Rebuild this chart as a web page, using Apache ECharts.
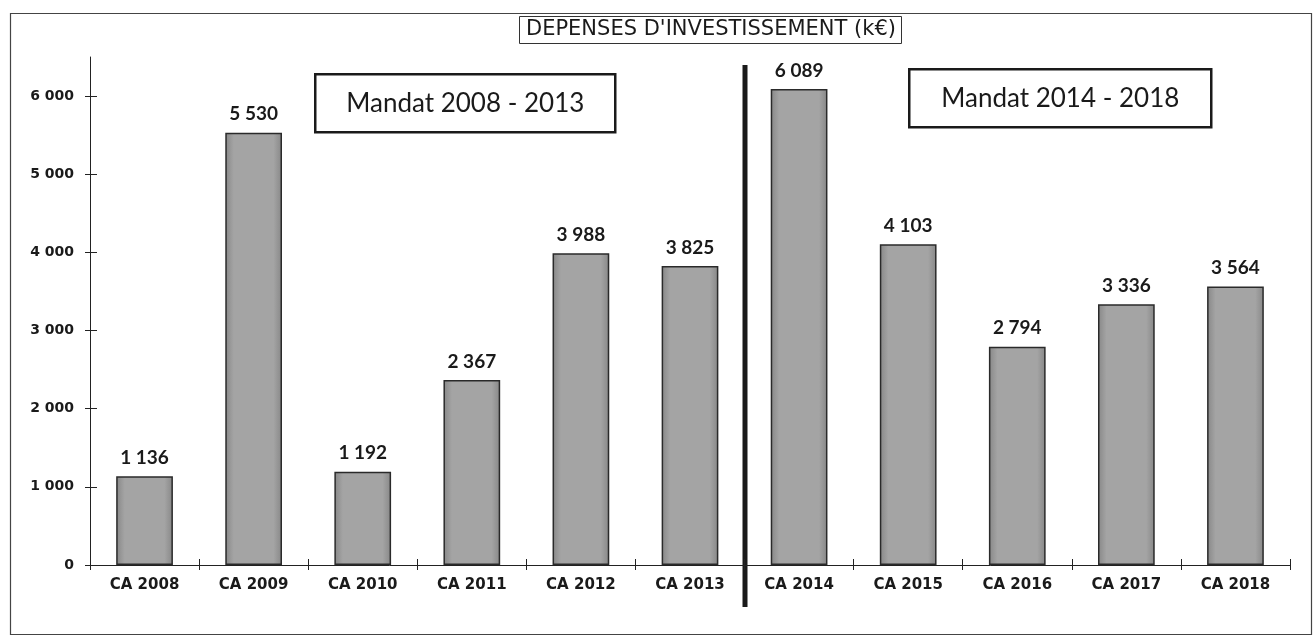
<!DOCTYPE html>
<html>
<head>
<meta charset="utf-8">
<script src="https://cdn.jsdelivr.net/npm/echarts@6/dist/echarts.min.js"></script>
<style>
  html, body { margin: 0; padding: 0; background: #ffffff; }
  #chart { width: 1314px; height: 637px; }
</style>
</head>
<body>
<div id="chart"></div>
<script>
// Dépenses d'investissement par compte administratif (k€)
const categories = ['CA 2008', 'CA 2009', 'CA 2010', 'CA 2011', 'CA 2012', 'CA 2013',
                    'CA 2014', 'CA 2015', 'CA 2016', 'CA 2017', 'CA 2018'];
const depenses = [1136, 5530, 1192, 2367, 3988, 3825, 6089, 4103, 2794, 3336, 3564];
const yTicks = [0, 1000, 2000, 3000, 4000, 5000, 6000];
const mandats = ['Mandat 2008 - 2013', 'Mandat 2014 - 2018'];
const chartTitle = "DEPENSES D'INVESTISSEMENT (k€)";

// "5530" -> "5 530"
function fmt(v) {
  return String(v).replace(/\B(?=(\d{3})+(?!\d))/g, ' ');
}

const chart = echarts.init(document.getElementById('chart'));

const axisColor = '#222222';
const yMax = 6500;

const option = {
  backgroundColor: '#ffffff',
  animation: false,
  title: {
    text: chartTitle,
    left: 519,
    top: 16,
    padding: [3, 6, 4, 7],
    borderColor: '#333333',
    borderWidth: 1,
    textStyle: {
      fontFamily: 'DejaVu Sans',
      fontWeight: 'normal',
      fontSize: 21,
      color: '#1a1a1a'
    }
  },
  grid: { left: 90, right: 24, top: 57, bottom: 72, containLabel: false },
  xAxis: [
    {
      type: 'category',
      data: categories,
      position: 'bottom',
      axisLine: { lineStyle: { color: axisColor, width: 1 } },
      axisTick: { show: true, interval: 0, length: 5, lineStyle: { color: axisColor } },
      axisLabel: {
        interval: 0,
        margin: 13,
        fontFamily: 'DejaVu Sans',
        fontWeight: 'bold',
        fontSize: 15,
        color: '#1a1a1a'
      }
    },
    {
      // inner half of the crossing tick marks
      type: 'category',
      data: categories,
      position: 'bottom',
      axisLine: { show: false },
      axisTick: { show: true, inside: true, interval: 0, length: 6, lineStyle: { color: axisColor } },
      axisLabel: { show: false }
    }
  ],
  yAxis: [
    {
      type: 'value',
      min: 0,
      max: yMax,
      interval: 1000,
      position: 'left',
      splitLine: { show: false },
      axisLine: { show: true, lineStyle: { color: axisColor, width: 1 } },
      axisTick: { show: true, length: 5, customValues: yTicks, lineStyle: { color: axisColor } },
      axisLabel: {
        customValues: yTicks,
        margin: 16,
        formatter: fmt,
        fontFamily: 'DejaVu Sans',
        fontWeight: 'bold',
        fontSize: 14,
        color: '#1a1a1a'
      }
    },
    {
      type: 'value',
      min: 0,
      max: yMax,
      interval: 1000,
      position: 'left',
      splitLine: { show: false },
      axisLine: { show: false },
      axisTick: { show: true, inside: true, length: 7, customValues: yTicks, lineStyle: { color: axisColor } },
      axisLabel: { show: false }
    }
  ],
  series: [
    {
      type: 'bar',
      data: depenses,
      xAxisIndex: 0,
      yAxisIndex: 0,
      barWidth: '52%',
      itemStyle: {
        color: {
          type: 'linear', x: 0, y: 0, x2: 1, y2: 0,
          colorStops: [
            { offset: 0, color: '#878787' },
            { offset: 0.15, color: '#a4a4a4' },
            { offset: 0.85, color: '#a4a4a4' },
            { offset: 1, color: '#878787' }
          ]
        },
        borderColor: '#2a2a2a',
        borderWidth: 1.5
      },
      label: {
        show: true,
        position: 'top',
        distance: 9,
        formatter: p => fmt(p.value),
        fontFamily: 'Lato',
        fontWeight: 'bold',
        fontSize: 19,
        color: '#1a1a1a'
      }
    }
  ]
};

chart.setOption(option);

// Separator between the two mandates, on the boundary between CA 2013 and CA 2014
const xA = chart.convertToPixel({ xAxisIndex: 0 }, categories[5]);
const xB = chart.convertToPixel({ xAxisIndex: 0 }, categories[6]);
const sepX = Math.round((xA + xB) / 2);

function mandatBox(label, x, y, w, h) {
  return {
    type: 'group',
    left: x,
    top: y,
    children: [
      {
        type: 'rect',
        shape: { x: 0, y: 0, width: w, height: h },
        style: { fill: '#ffffff', stroke: '#1a1a1a', lineWidth: 2.5 }
      },
      {
        type: 'text',
        x: w / 2,
        y: h / 2,
        style: {
          text: label,
          fontFamily: 'Lato',
          fontSize: 26,
          fill: '#1a1a1a',
          align: 'center',
          verticalAlign: 'middle'
        }
      }
    ]
  };
}

chart.setOption({
  graphic: [
    {
      type: 'rect',
      left: 8, top: 11,
      shape: { x: 0, y: 0, width: 1301, height: 621 },
      style: { fill: 'none', stroke: '#444444', lineWidth: 1.2 },
      silent: true
    },
    {
      type: 'line',
      shape: { x1: sepX, y1: 65, x2: sepX, y2: 607 },
      style: { stroke: '#1a1a1a', lineWidth: 5 },
      silent: true
    },
    mandatBox(mandats[0], 314, 73, 300, 58),
    mandatBox(mandats[1], 908, 68, 302, 58)
  ]
});
</script>
</body>
</html>
